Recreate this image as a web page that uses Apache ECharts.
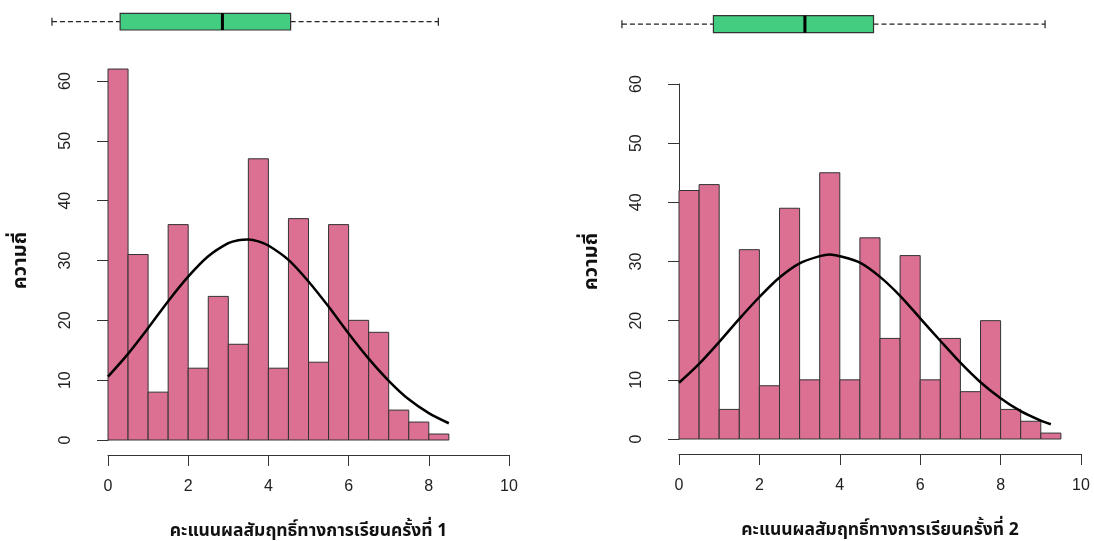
<!DOCTYPE html>
<html>
<head>
<meta charset="utf-8">
<script src="https://cdn.jsdelivr.net/npm/echarts@6/dist/echarts.min.js"></script>
<style>
html,body{margin:0;padding:0;background:#fff;}
#chart{width:1094px;height:541px;}
</style>
</head>
<body>
<div id="chart"></div>
<script>
// ---- data ----
const binWidth = 0.5;
const binStarts1 = [0,0.5,1,1.5,2,2.5,3,3.5,4,4.5,5,5.5,6,6.5,7,7.5,8];
const counts1 = [62,31,8,36,12,24,16,47,12,37,13,36,20,18,5,3,1];
const binStarts2 = [0,0.5,1,1.5,2,2.5,3,3.5,4,4.5,5,5.5,6,6.5,7,7.5,8,8.5,9];
const counts2 = [42,43,5,32,9,39,10,45,10,34,17,31,10,17,8,20,5,3,1];

const curveX1 = [0,0.5,1,1.5,2,2.5,3,3.25,3.5,3.75,4,4.5,5,5.5,6,6.5,7,7.5,8,8.5];
const curveY1 = [10.6,14.4,18.7,23.2,27.3,30.7,32.9,33.4,33.5,33.2,32.5,30.1,26.5,22.3,17.8,13.6,9.9,6.8,4.5,2.8];
const curveX2 = [0,0.5,1,1.5,2,2.5,3,3.5,3.75,4,4.5,5,5.5,6,6.5,7,7.5,8,8.5,9,9.25];
const curveY2 = [9.5,12.7,16.4,20.3,24.0,27.3,29.7,30.9,31.2,30.9,29.8,27.4,24.2,20.4,16.6,12.9,9.6,6.9,4.7,3.1,2.5];

// boxplot five-number summaries: [min, Q1, median, Q3, max]
const box1 = [0, 1.5, 3.75, 5.25, 8.5];
const box2 = [0, 2, 4, 5.5, 9.25];

const xTitle1 = 'คะแนนผลสัมฤทธิ์ทางการเรียนครั้งที่ 1';
const xTitle2 = 'คะแนนผลสัมฤทธิ์ทางการเรียนครั้งที่ 2';
const yTitle = 'ความถี่';

// ---- chart ----
const FONT = "'Liberation Sans', Arial, sans-serif";
const THAI = "Tahoma, 'Noto Sans Thai', 'Noto Sans', 'DejaVu Sans', sans-serif";
const BAR = '#DB7093';
const BOXFILL = '#43CD80';

function histData(starts, counts){
  return starts.map((s,i)=>[s, s+binWidth, counts[i]]);
}
function renderBar(params, api){
  const p0 = api.coord([api.value(0), api.value(2)]);
  const p1 = api.coord([api.value(1), 0]);
  return {type:'rect', shape:{x:p0[0], y:p0[1], width:p1[0]-p0[0], height:p1[1]-p0[1]},
    style:{fill:BAR, stroke:'#333', lineWidth:1}};
}
function renderBox(params, api){
  const v = [0,1,2,3,4].map(i=>api.value(i));
  const yc = api.coord([v[0],0.5])[1];
  const yt = api.coord([v[0],1])[1];
  const yb = api.coord([v[0],0])[1];
  const x = v.map(t=>api.coord([t,0.5])[0]);
  const dash = {stroke:'#222', lineWidth:1.2, lineDash:[5,3]};
  return {type:'group', children:[
    {type:'line', shape:{x1:x[0],y1:yc,x2:x[1],y2:yc}, style:dash},
    {type:'line', shape:{x1:x[3],y1:yc,x2:x[4],y2:yc}, style:dash},
    {type:'line', shape:{x1:x[0],y1:yc-4,x2:x[0],y2:yc+4}, style:{stroke:'#222',lineWidth:1.2}},
    {type:'line', shape:{x1:x[4],y1:yc-4,x2:x[4],y2:yc+4}, style:{stroke:'#222',lineWidth:1.2}},
    {type:'rect', shape:{x:x[1],y:yt,width:x[3]-x[1],height:yb-yt}, style:{fill:BOXFILL, stroke:'#333', lineWidth:1.2}},
    {type:'line', shape:{x1:x[2],y1:yt,x2:x[2],y2:yb}, style:{stroke:'#000', lineWidth:3}}
  ]};
}
function boxRange(b){ const r=b[4]-b[0]; return [b[0]-0.04*r, b[4]+0.04*r]; }

function histX(gi, title){
  return {type:'value', gridIndex:gi, min:0, max:10, interval:2, offset:15,
    axisLine:{show:true, onZero:false, lineStyle:{color:'#333', width:1}},
    axisTick:{show:true, length:11, lineStyle:{color:'#333'}},
    splitLine:{show:false},
    axisLabel:{fontSize:16, fontFamily:FONT, color:'#222', margin:24},
    name:title, nameLocation:'middle', nameGap:68,
    nameTextStyle:{fontFamily:THAI, fontWeight:'bold', fontSize:17.5, color:'#111'}};
}
function histY(gi){
  return {type:'value', gridIndex:gi, min:0, max:60, interval:10, offset:14,
    axisLine:{show:true, lineStyle:{color:'#333', width:1}},
    axisTick:{show:true, length:11, lineStyle:{color:'#333'}},
    splitLine:{show:false},
    axisLabel:{fontSize:16, fontFamily:FONT, color:'#222', margin:20, rotate:90},
    name:yTitle, nameLocation:'middle', nameGap:62, nameRotate:90,
    nameTextStyle:{fontFamily:THAI, fontWeight:'bold', fontSize:20, color:'#111'}};
}

const r1 = boxRange(box1), r2 = boxRange(box2);

const option = {
  animation:false,
  backgroundColor:'#fff',
  grid:[
    {left:108, top:81, width:401, height:359, outerBoundsMode:'none', containLabel:false},
    {left:679, top:84, width:402, height:355, outerBoundsMode:'none', containLabel:false},
    {left:36.5, top:13.3, width:417.3, height:16.7, outerBoundsMode:'none', containLabel:false},
    {left:605, top:15.7, width:457, height:17, outerBoundsMode:'none', containLabel:false}
  ],
  xAxis:[
    histX(0, xTitle1),
    histX(1, xTitle2),
    {type:'value', gridIndex:2, min:r1[0], max:r1[1], show:false},
    {type:'value', gridIndex:3, min:r2[0], max:r2[1], show:false}
  ],
  yAxis:[
    histY(0), histY(1),
    {type:'value', gridIndex:2, min:0, max:1, show:false},
    {type:'value', gridIndex:3, min:0, max:1, show:false}
  ],
  series:[
    {type:'custom', xAxisIndex:0, yAxisIndex:0, renderItem:renderBar, data:histData(binStarts1,counts1), encode:{x:[0,1], y:2}},
    {type:'custom', xAxisIndex:1, yAxisIndex:1, renderItem:renderBar, data:histData(binStarts2,counts2), encode:{x:[0,1], y:2}},
    {type:'line', xAxisIndex:0, yAxisIndex:0, data:curveX1.map((x,i)=>[x,curveY1[i]]), smooth:0.3, showSymbol:false, symbol:'none', lineStyle:{color:'#000', width:2.5}, z:5},
    {type:'line', xAxisIndex:1, yAxisIndex:1, data:curveX2.map((x,i)=>[x,curveY2[i]]), smooth:0.3, showSymbol:false, symbol:'none', lineStyle:{color:'#000', width:2.5}, z:5},
    {type:'custom', xAxisIndex:2, yAxisIndex:2, renderItem:renderBox, data:[box1], encode:{x:[0,1,2,3,4]}},
    {type:'custom', xAxisIndex:3, yAxisIndex:3, renderItem:renderBox, data:[box2], encode:{x:[0,1,2,3,4]}}
  ]
};
const chart = echarts.init(document.getElementById('chart'), null, {renderer:'canvas'});
chart.setOption(option);
</script>
</body>
</html>
